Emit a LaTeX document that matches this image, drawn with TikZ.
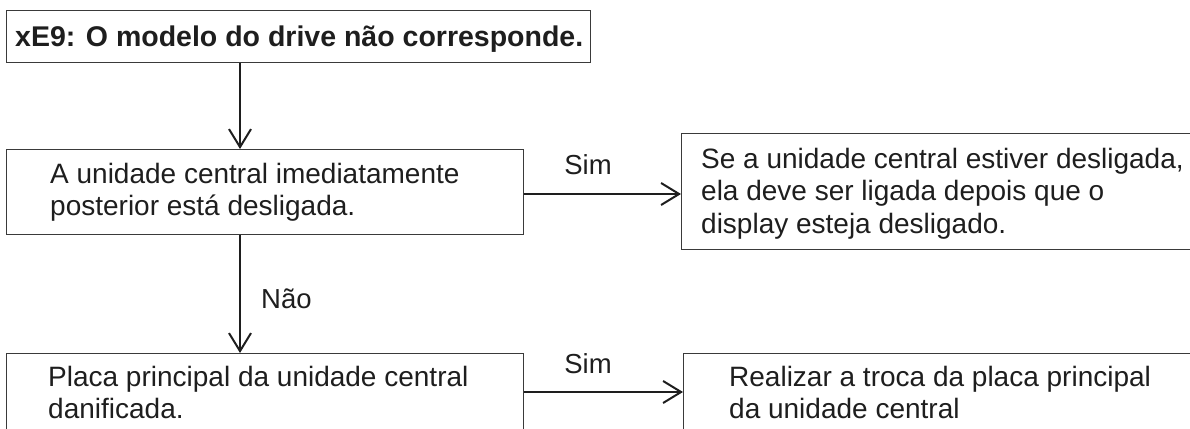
\documentclass[tikz,border=0pt]{standalone}
\usepackage{fontspec}
\setmainfont{Liberation Sans}
\usetikzlibrary{arrows.meta}
\newcommand\txtblock[1]{\begin{tabular}[t]{@{}l@{}}#1\end{tabular}}
\definecolor{ink}{HTML}{1E1E1E}
\definecolor{frame}{HTML}{3A3A3A}
\tikzset{
  box/.style={draw=frame, line width=1.3pt, fill=none},
  txt/.style={anchor=base west, inner sep=0pt, text=ink, font=\fontsize{28}{32.5}\selectfont},
  lbl/.style={anchor=base, inner sep=0pt, text=ink, font=\fontsize{27.5}{32}\selectfont},
  conn/.style={draw=ink, line width=2pt, -{Straight Barb[length=18pt,width=22pt,line width=2pt]}},
}
\begin{document}
\begin{tikzpicture}[x=1pt,y=-1pt]
\useasboundingbox (0,0) rectangle (1190,428);
\clip (0,0) rectangle (1190,428);
% boxes
\node[box, minimum width=584pt, minimum height=52pt, anchor=north west, inner sep=0pt] (b1) at (6,10) {};
\node[box, minimum width=517pt, minimum height=85pt, anchor=north west, inner sep=0pt] (b2) at (6,149) {};
\node[box, minimum width=540pt, minimum height=116pt, anchor=north west, inner sep=0pt] (b3) at (681,133) {};
\node[box, minimum width=517pt, minimum height=100pt, anchor=north west, inner sep=0pt] (b4) at (6,353) {};
\node[box, minimum width=540pt, minimum height=100pt, anchor=north west, inner sep=0pt] (b5) at (683,353) {};
% texts
\node[txt, font=\fontsize{28.5}{32}\selectfont\bfseries] (t1) at (15,46) {xE9: O modelo do drive não corresponde.};
\node[txt] (t2) at (50,183) {\txtblock{A unidade central imediatamente\\posterior está desligada.}};
\node[txt] (t3) at (701,168) {\txtblock{Se a unidade central estiver desligada,\\ela deve ser ligada depois que o\\display esteja desligado.}};
\node[txt] (t4) at (48,386) {\txtblock{Placa principal da unidade central\\danificada.}};
\node[txt] (t5) at (729,386) {\txtblock{Realizar a troca da placa principal\\da unidade central}};
% connectors
\coordinate (a1s) at (240,62);
\coordinate (a1e) at (240,149);
\draw[conn] (b1.south -| a1s) -- (b2.north -| a1e);
\coordinate (a2) at (0,194);
\draw[conn] (b2.east |- a2) -- (b3.west |- a2);
\draw[conn] (b2.south -| a1s) -- (b4.north -| a1e);
\coordinate (a4) at (0,392);
\draw[conn] (b4.east |- a4) -- (b5.west |- a4);
% labels
\node[lbl] (s1) at (588,174) {Sim};
\node[lbl] (s2) at (588,373) {Sim};
\node[lbl, anchor=base west] (n1) at (261,308) {Não};
\end{tikzpicture}
\end{document}
